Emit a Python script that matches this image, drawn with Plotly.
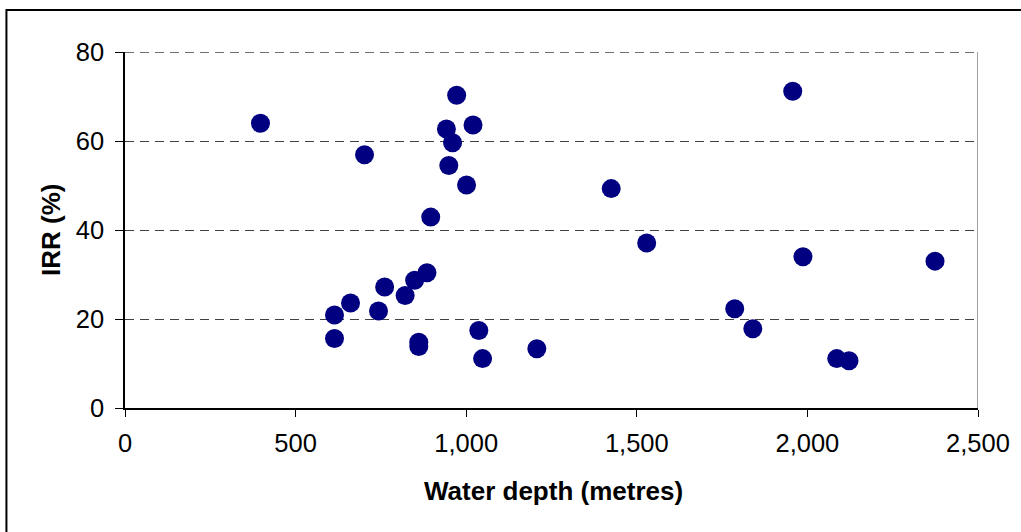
import plotly.graph_objects as go

water_depth = [397, 702, 972, 942, 1020, 960, 949, 1001, 896, 1425, 1529, 885, 849, 761,
               821, 661, 743, 614, 614, 861, 861, 1037, 1048, 1207, 1957, 1987, 2374,
               1787, 1840, 2086, 2122]
irr = [64.0, 56.9, 70.3, 62.7, 63.6, 59.6, 54.5, 50.1, 42.9, 49.3, 37.1, 30.4, 28.7, 27.2,
       25.3, 23.6, 21.8, 20.9, 15.6, 14.8, 13.8, 17.4, 11.1, 13.3, 71.2, 34.0, 33.0,
       22.3, 17.8, 11.1, 10.6]

x_ticks = [0, 500, 1000, 1500, 2000, 2500]
y_ticks = [0, 20, 40, 60, 80]

x_title = "Water depth (metres)"
y_title = "IRR (%)"

font_family = "Liberation Sans, Arial, sans-serif"

fig = go.Figure()
fig.add_trace(go.Scatter(
    x=water_depth, y=irr, mode="markers",
    marker=dict(size=19, color="#000080", line=dict(width=0)),
    hoverinfo="x+y", cliponaxis=False,
))

fig.update_layout(
    width=1021, height=532,
    margin=dict(l=125, r=43, t=52, b=124),
    paper_bgcolor="white", plot_bgcolor="white",
    showlegend=False,
    font=dict(family=font_family, color="black", size=26),
    xaxis=dict(
        range=[0, 2500], tickvals=x_ticks, tickformat=",",
        showgrid=False, zeroline=False,
        showline=True, linecolor="black", linewidth=1.5,
        ticks="outside", ticklen=7, tickcolor="black", tickwidth=1,
        ticklabelstandoff=5,
        tickfont=dict(size=25.5),
    ),
    yaxis=dict(
        range=[0, 80], tickvals=y_ticks,
        showgrid=True, gridcolor="#404040", gridwidth=1, griddash="9px,6px",
        zeroline=False,
        showline=True, linecolor="black", linewidth=1.5,
        ticks="outside", ticklen=8, tickcolor="black", tickwidth=1,
        ticklabelstandoff=6,
        tickfont=dict(size=25.5),
    ),
    annotations=[
        dict(text="<b>" + x_title + "</b>", xref="paper", yref="paper",
             x=0.5018, y=-0.2331, xanchor="center", yanchor="middle",
             showarrow=False, font=dict(size=26)),
        dict(text="<b>" + y_title + "</b>", xref="paper", yref="paper",
             x=-0.0868, y=0.5, xanchor="center", yanchor="middle", textangle=-90,
             showarrow=False, font=dict(size=26)),
    ],
    shapes=[
        dict(type="line", xref="x", yref="paper", x0=2500, x1=2500, y0=0, y1=1,
             line=dict(color="#808080", width=1.5)),
        dict(type="line", xref="paper", yref="y", x0=0, x1=1, y0=80, y1=80,
             line=dict(color="#404040", width=1.5, dash="9px,6px")),
        dict(type="rect", xref="paper", yref="paper", x0=-0.139, x1=1.3, y0=1.118, y1=-0.5,
             line=dict(color="black", width=2), fillcolor="rgba(0,0,0,0)"),
    ],
)

fig.write_html("out.html")
